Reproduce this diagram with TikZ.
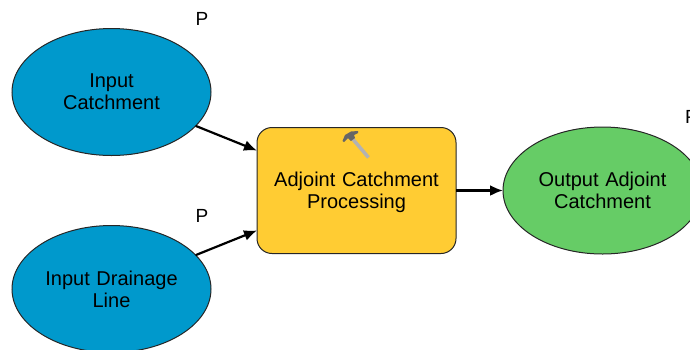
\documentclass[tikz,border=0pt]{standalone}
\usepackage{fontspec}
\setmainfont{Liberation Sans}
\usetikzlibrary{arrows.meta}
\usetikzlibrary{positioning}
\usetikzlibrary{shapes.geometric}
\definecolor{inputblue}{HTML}{0099CC}
\definecolor{toolyellow}{HTML}{FFCC33}
\definecolor{outputgreen}{HTML}{66CC66}
\tikzstyle{dataset} = [ellipse, minimum width=199pt, minimum height=127pt, inner sep=0pt, outer sep=0pt, text centered, text width=138pt, draw=black!85, line width=1pt, font=\fontsize{20}{22}\selectfont]
\tikzstyle{tool} = [rectangle, rounded corners=15pt, minimum width=199pt, minimum height=126pt, inner sep=0pt, outer sep=0pt, text centered, text width=180pt, text depth=22pt, draw=black!85, line width=1pt, fill=toolyellow, font=\fontsize{20}{22}\selectfont]
\tikzstyle{param} = [inner sep=0pt, font=\fontsize{19}{22}\selectfont]
\tikzstyle{flow} = [-{Latex[length=13pt,width=11pt]}, line width=2.2pt, black]

\begin{document}
\begin{tikzpicture}[x=1pt, y=-1pt, node distance=70pt]

  \clip (0,0) rectangle (690,349);

  \node (catchment) [dataset, fill=inputblue] at (111.5,92) {Input\\Catchment};
  \node (drainage) [dataset, fill=inputblue, below=of catchment] {Input Drainage\\Line};
  \node (processing) [tool] at (356.5,190.5) {Adjoint Catchment\\Processing};
  \node (result) [dataset, fill=outputgreen, right=47pt of processing] {Output Adjoint\\Catchment};

  \node (pcatchment) [param] at (202,19) {P};
  \node (pdrainage) [param] at (202,216) {P};
  \node (presult) [param, anchor=west] at (685,117) {P};

  \draw [flow] (catchment) -- (processing);
  \draw [flow] (drainage) -- (processing);
  \draw [flow] (processing) -- (result);

  % hammer
  \draw [line width=3.5pt, color=black!30] (351,137) -- (368.5,157.5);
  \fill [black!60] (342.5,141) -- (345,135) -- (351,131.5) -- (358,131) -- (358,133) -- (354,135) -- (355,138) -- (351,141) -- (348,138) -- (344,142) -- cycle;

\end{tikzpicture}
\end{document}
